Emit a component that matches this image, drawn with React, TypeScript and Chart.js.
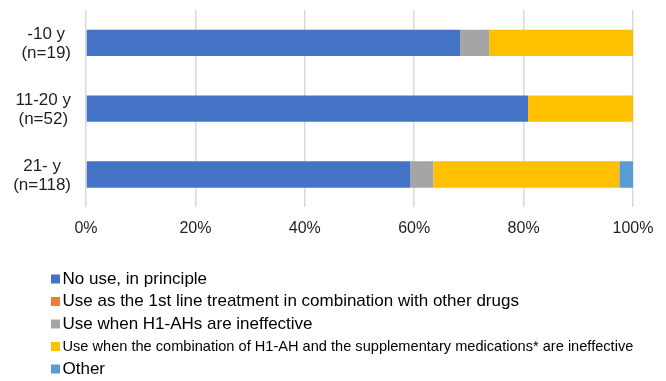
import { useEffect, useRef } from "react";
import { Chart, registerables } from "chart.js";

Chart.register(...registerables);

// Age groups (two-line category labels)
const ageGroups = [
  ["-10 y", "(n=19)"],
  ["11-20 y", "(n=52)"],
  ["21- y", "(n=118)"],
];

// Share of respondents (%) per answer, one value per age group
const noUse = [68.4, 80.8, 59.3];
const firstLineCombo = [0, 0, 0];
const whenH1Ineffective = [5.3, 0, 4.2];
const whenComboIneffective = [26.3, 19.2, 34.0];
const other = [0, 0, 2.5];

const seriesNames = [
  "No use, in principle",
  "Use as the 1st line treatment in combination with other drugs",
  "Use when H1-AHs are ineffective",
  "Use when the combination of H1-AH and the supplementary medications* are ineffective",
  "Other",
];
const seriesValues = [noUse, firstLineCombo, whenH1Ineffective, whenComboIneffective, other];
const seriesColors = ["#4472C4", "#ED7D31", "#A5A5A5", "#FFC000", "#5B9BD5"];
const legendFontSizes = [17, 17, 17, 14.6, 17];

const FONT = '"Liberation Sans", Arial, sans-serif';
const TEXT_COLOR = "#1f1f1f";

// Category labels: each block right-aligned to the axis, its lines centred
const categoryLabels = {
  id: "categoryLabels",
  afterDraw(chart: any) {
    const ctx = chart.ctx as CanvasRenderingContext2D;
    const yScale = chart.scales.y;
    const rightEdge = 71;
    const lineHeight = 19;
    ctx.save();
    ctx.font = `17px ${FONT}`;
    ctx.fillStyle = TEXT_COLOR;
    ctx.textAlign = "center";
    ctx.textBaseline = "middle";
    (chart.data.labels as string[][]).forEach((lines, i) => {
      const cy = yScale.getPixelForTick(i) + 1;
      const block = Math.max(...lines.map((l) => ctx.measureText(l).width));
      const cx = rightEdge - block / 2;
      lines.forEach((line, j) => {
        ctx.fillText(line, cx, cy + (j - (lines.length - 1) / 2) * lineHeight);
      });
    });
    ctx.restore();
  },
};

// Vertical legend list drawn under the plot
const listLegend = {
  id: "listLegend",
  afterDraw(chart: any) {
    const ctx = chart.ctx as CanvasRenderingContext2D;
    const boxX = 51;
    const boxSize = 9;
    const textX = 62.5;
    const firstY = 279;
    const rowGap = 22.5;
    ctx.save();
    ctx.textBaseline = "middle";
    ctx.textAlign = "left";
    chart.data.datasets.forEach((ds: any, i: number) => {
      const y = firstY + i * rowGap;
      ctx.fillStyle = ds.backgroundColor;
      ctx.fillRect(boxX, y - boxSize / 2, boxSize, boxSize);
      ctx.font = `${legendFontSizes[i]}px ${FONT}`;
      ctx.fillStyle = "#000000";
      ctx.fillText(ds.label, textX, y);
    });
    ctx.restore();
  },
};

export default function App() {
  const canvasRef = useRef<HTMLCanvasElement | null>(null);

  useEffect(() => {
    if (!canvasRef.current) return;
    const chart = new Chart(canvasRef.current, {
      type: "bar",
      data: {
        labels: ageGroups,
        datasets: seriesNames.map((name, i) => ({
          label: name,
          data: seriesValues[i],
          backgroundColor: seriesColors[i],
          borderWidth: 0,
          barPercentage: 0.4,
          categoryPercentage: 1,
        })),
      },
      options: {
        indexAxis: "y",
        responsive: false,
        animation: false,
        layout: { padding: { top: 10, right: 33, bottom: 133.6, left: 0 } },
        plugins: {
          legend: { display: false },
          tooltip: { enabled: false },
        },
        scales: {
          x: {
            stacked: true,
            min: 0,
            max: 100,
            border: { display: false },
            grid: { color: "#d9d9d9", lineWidth: 1.5, drawTicks: false },
            ticks: {
              stepSize: 20,
              padding: 12,
              color: TEXT_COLOR,
              font: { family: FONT, size: 16 },
              callback: (v: any) => `${v}%`,
            },
            afterFit: (scale: any) => {
              scale.height = 40;
            },
          },
          y: {
            stacked: true,
            border: { display: false },
            grid: { display: false, drawTicks: false },
            ticks: { display: false },
            afterFit: (scale: any) => {
              scale.width = 86;
              scale.paddingTop = 0;
              scale.paddingBottom = 0;
            },
          },
        },
      },
      plugins: [categoryLabels, listLegend],
    });
    return () => chart.destroy();
  }, []);

  return (
    <div style={{ position: "fixed", left: 0, top: 0, width: 666, height: 381, background: "#ffffff" }}>
      <canvas ref={canvasRef} width={666} height={381} />
    </div>
  );
}
